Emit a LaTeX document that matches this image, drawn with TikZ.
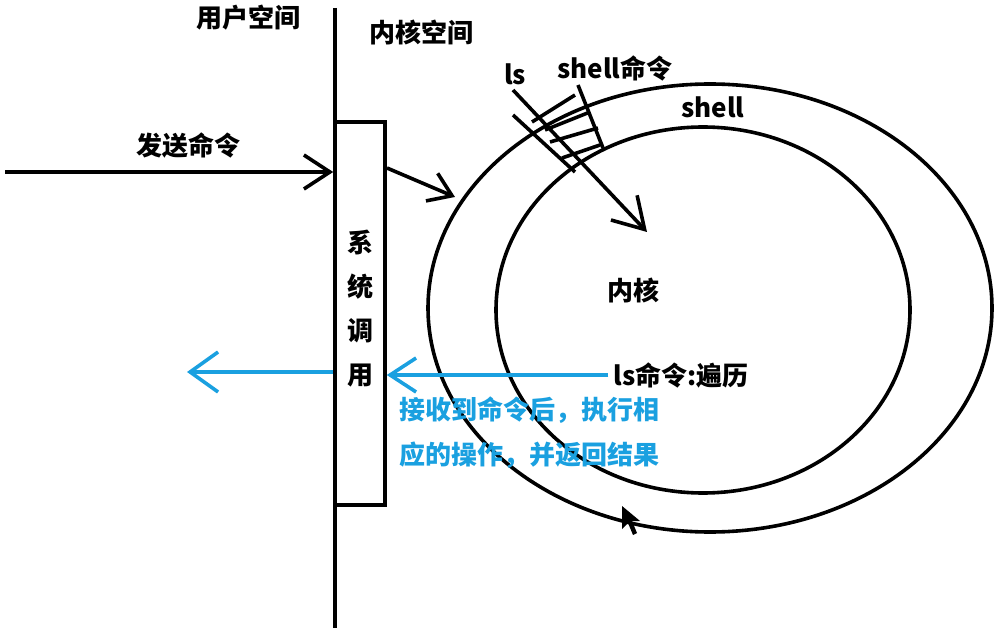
\documentclass[tikz,border=0pt]{standalone}
\usepackage{fontspec}
\setmainfont{Noto Sans CJK SC}
\usetikzlibrary{arrows.meta,shapes.geometric}
\definecolor{skyblue}{RGB}{26,160,224}

\begin{document}
\begin{tikzpicture}[x=1pt,y=-1pt,line width=3.6pt,
  font=\fontsize{26}{30}\selectfont\bfseries,
  barb/.style={-{Straight Barb[length=26pt,width=34pt]}},
  ring/.style={draw,ellipse,inner sep=0pt}]
  \useasboundingbox (0,0) rectangle (999,628);

  % user space | kernel space
  \draw (335,8) -- (335,628);
  \node (user) at (248,18) {用户空间};
  \node (kspace) at (421,32) {内核空间};

  % system call box
  \node [draw,fill=white,minimum width=50,minimum height=383,inner sep=0pt] (syscall) at (360,313.5) {};
  \node [align=center,font=\fontsize{26}{44}\selectfont\bfseries] (sctext) at (360,309) {系\\统\\调\\用};

  % shell and kernel
  \node [ring,minimum width=564,minimum height=448] (shell) at (710,308) {};
  \node [ring,minimum width=414,minimum height=366] (kernel) at (703,310) {};
  \node (shelltxt) at (713,107) {shell};
  \node (kerneltxt) at (633,290) {内核};

  % send command
  \coordinate (src) at (5,172);
  \coordinate (out) at (387,168);
  \coordinate (hit) at (455,197);
  \node (send) at (188,146) {发送命令};
  \draw [barb] (src) -- (syscall.west |- src);
  \draw [-{Straight Barb[length=22pt,width=30pt]}] (out) -- (hit);

  % ls through the shell
  \node (ls) at (515,74) {ls};
  \node (shellcmd) at (615,68) {shell命令};
  \coordinate (lsend) at (647,232);
  \draw [-{Straight Barb[length=30pt,width=36pt]}] (513,90) -- (lsend);
  \draw (513,115) -- (575,172);
  \draw (578,85) -- (603,148);
  \foreach \xa/\ya/\xb/\yb in {532/122/575/95, 545/130/590/112, 550/142/598/128, 562/158/600/145}
    \draw (\xa,\ya) -- (\xb,\yb);

  % result back to user
  \node (lscmd) at (681,375) {ls命令:遍历};
  \coordinate (back) at (187,372);
  \draw [skyblue,barb] (lscmd.west) -- (syscall.east |- lscmd.west);
  \draw [skyblue,-{Straight Barb[length=28pt,width=40pt]}] (syscall.west |- back) -- (back);
  \node [skyblue,align=left,font=\fontsize{26}{45}\selectfont\bfseries] (reply) at (529,433)
    {接收到命令后，执行相\\应的操作，并返回结果};

  % mouse pointer
  \fill (622,506) -- (622,529) -- (628,523) -- (633,535) -- (637,533) -- (632,521) -- (640,521) -- cycle;
\end{tikzpicture}
\end{document}
